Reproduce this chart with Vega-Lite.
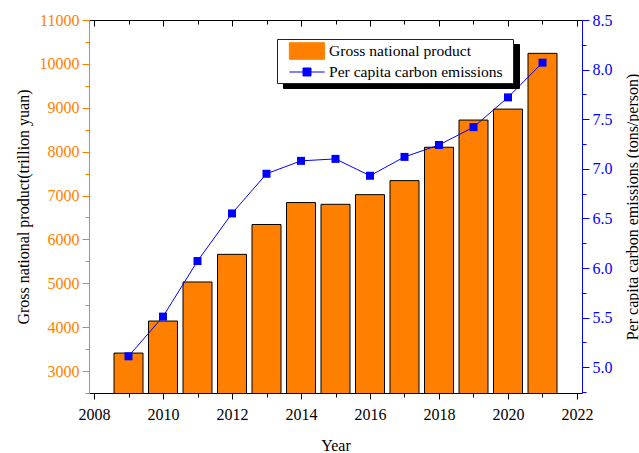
{
  "$schema": "https://vega.github.io/schema/vega-lite/v6.json",
  "width": 493,
  "height": 373,
  "autosize": {"type": "none"},
  "padding": {"left": 89, "top": 20, "right": 57, "bottom": 60},
  "background": "white",
  "config": {
    "font": "Liberation Serif",
    "view": {"stroke": null},
    "axis": {
      "grid": false,
      "labelFont": "Liberation Serif",
      "titleFont": "Liberation Serif",
      "labelFontSize": 16,
      "titleFontSize": 16,
      "titleFontWeight": "normal",
      "domainWidth": 1,
      "tickWidth": 1
    }
  },
  "data": {
    "values": [
      {"year": 2009, "gdp": 3410, "emissions": 5.11},
      {"year": 2010, "gdp": 4140, "emissions": 5.51},
      {"year": 2011, "gdp": 5030, "emissions": 6.07},
      {"year": 2012, "gdp": 5660, "emissions": 6.55},
      {"year": 2013, "gdp": 6340, "emissions": 6.95},
      {"year": 2014, "gdp": 6840, "emissions": 7.08},
      {"year": 2015, "gdp": 6800, "emissions": 7.10},
      {"year": 2016, "gdp": 7020, "emissions": 6.93},
      {"year": 2017, "gdp": 7340, "emissions": 7.12},
      {"year": 2018, "gdp": 8100, "emissions": 7.24},
      {"year": 2019, "gdp": 8720, "emissions": 7.42},
      {"year": 2020, "gdp": 8970, "emissions": 7.72},
      {"year": 2021, "gdp": 10240, "emissions": 8.07}
    ]
  },
  "layer": [
    {
      "mark": {"type": "point", "opacity": 0},
      "encoding": {
        "x": {"field": "year", "type": "quantitative", "scale": {"domain": [2008, 2022], "nice": false, "zero": false}, "axis": null},
        "y": {"field": "gdp", "type": "quantitative", "scale": {"domain": [2500, 11000], "nice": false, "zero": false}, "axis": null},
        "shape": {
          "datum": "a",
          "scale": {"domain": ["a", "b"], "range": ["M-1.86,-0.87H1.86V0.87H-1.86Z", "M-1.86,0H1.86M-0.42,-0.42H0.42V0.42H-0.42Z"]},
          "legend": {
            "orient": "none",
            "legendX": 194,
            "legendY": 24,
            "title": " ",
            "titleOrient": "right",
            "titlePadding": 8,
            "titleFont": "Liberation Serif",
            "titleFontSize": 15.6,
            "fillColor": "black",
            "strokeColor": "black",
            "padding": 2,
            "labelFont": "Liberation Serif",
            "labelFontSize": 15.6,
            "labelColor": "black",
            "labelOffset": 12,
            "labelLimit": 400,
            "symbolSize": 361,
            "symbolStrokeWidth": 1,
            "symbolOffset": 18,
            "symbolFillColor": "black",
            "symbolStrokeColor": "black",
            "rowPadding": 0,
            "labelExpr": "datum.value === 'a' ? 'Gross national product' : 'Per capita carbon emissions'"
          }
        }
      }
    },
    {
      "mark": {"type": "bar", "width": 29, "stroke": "black", "strokeWidth": 1, "clip": true},
      "encoding": {
        "x": {
          "field": "year", "type": "quantitative",
          "scale": {"domain": [2008, 2022], "nice": false, "zero": false},
          "axis": {
            "orient": "bottom",
            "values": [2008, 2009, 2010, 2011, 2012, 2013, 2014, 2015, 2016, 2017, 2018, 2019, 2020, 2021, 2022],
            "format": "d",
            "labelExpr": "datum.value % 2 === 0 ? datum.label : ''",
            "tickSize": {"condition": {"test": "datum.value % 2 === 0", "value": 6}, "value": 4},
            "title": "Year",
            "domainColor": "black",
            "tickColor": "black",
            "labelColor": "black",
            "titleColor": "black",
            "labelPadding": 7,
            "titlePadding": 15,
            "labelFlush": false,
            "labelOverlap": false
          }
        },
        "y": {
          "field": "gdp", "type": "quantitative",
          "scale": {"domain": [2500, 11000], "nice": false, "zero": false},
          "axis": {
            "orient": "left",
            "values": [2500, 3000, 3500, 4000, 4500, 5000, 5500, 6000, 6500, 7000, 7500, 8000, 8500, 9000, 9500, 10000, 10500, 11000],
            "format": "d",
            "labelExpr": "datum.value % 1000 === 0 ? datum.label : ''",
            "tickSize": {"condition": {"test": "datum.value % 1000 === 0", "value": 7}, "value": 4},
            "title": "Gross national product(trillion yuan)",
            "domainColor": "#FF8000",
            "tickColor": "#FF8000",
            "labelColor": "#FF8000",
            "titleColor": "black",
            "labelPadding": 3,
            "titlePadding": 8,
            "labelFlush": false,
            "labelOverlap": false
          }
        },
        "color": {
          "datum": "Gross national product",
          "scale": {"domain": ["Gross national product", "Per capita carbon emissions"], "range": ["#FF8000", "#0000FF"]},
          "legend": {
            "orient": "none",
            "legendX": 188,
            "legendY": 19,
            "title": " ",
            "titleOrient": "right",
            "titlePadding": 8,
            "titleFont": "Liberation Serif",
            "titleFontSize": 15.6,
            "fillColor": "white",
            "strokeColor": "#222222",
            "padding": 2,
            "labelFont": "Liberation Serif",
            "labelFontSize": 15.6,
            "labelColor": "black",
            "labelOffset": 12,
            "labelLimit": 400,
            "symbolSize": 361,
            "symbolStrokeWidth": 1,
            "symbolOffset": 18,
            "symbolOpacity": 1,
            "symbolType": {"expr": "datum.value === 'Gross national product' ? 'M-1.86,-0.87H1.86V0.87H-1.86Z' : 'M-1.86,0H1.86M-0.42,-0.42H0.42V0.42H-0.42Z'"},
            "rowPadding": 0
          }
        }
      }
    },
    {
      "mark": {"type": "line", "strokeWidth": 1, "clip": true},
      "encoding": {
        "x": {
          "field": "year", "type": "quantitative",
          "scale": {"domain": [2008, 2022], "nice": false, "zero": false},
          "axis": {
            "orient": "top",
            "values": [2008, 2009, 2010, 2011, 2012, 2013, 2014, 2015, 2016, 2017, 2018, 2019, 2020, 2021, 2022],
            "labels": false,
            "title": null,
            "tickSize": {"condition": {"test": "datum.value % 2 === 0", "value": -6}, "value": -4},
            "domainColor": "black",
            "tickColor": "black"
          }
        },
        "y": {
          "field": "emissions", "type": "quantitative",
          "scale": {"domain": [4.74, 8.5], "nice": false, "zero": false},
          "axis": {
            "orient": "right",
            "values": [4.75, 5, 5.25, 5.5, 5.75, 6, 6.25, 6.5, 6.75, 7, 7.25, 7.5, 7.75, 8, 8.25, 8.5],
            "labelExpr": "(datum.value * 2) % 1 === 0 ? format(datum.value, '.1f') : ''",
            "tickSize": {"condition": {"test": "(datum.value * 2) % 1 === 0", "value": 7}, "value": 4},
            "title": "Per capita carbon emissions (tons/person)",
            "titleAngle": 270,
            "titleBaseline": "top",
            "domainColor": "#0000FF",
            "tickColor": "#0000FF",
            "labelColor": "#0000FF",
            "titleColor": "black",
            "labelPadding": 3,
            "titlePadding": 12,
            "labelFlush": false,
            "labelOverlap": false
          }
        },
        "color": {"datum": "Per capita carbon emissions"}
      }
    },
    {
      "mark": {"type": "point", "shape": "square", "filled": true, "size": 64, "opacity": 1, "clip": true},
      "encoding": {
        "x": {"field": "year", "type": "quantitative", "scale": {"domain": [2008, 2022], "nice": false, "zero": false}, "axis": null},
        "y": {"field": "emissions", "type": "quantitative", "scale": {"domain": [4.74, 8.5], "nice": false, "zero": false}, "axis": null},
        "color": {"datum": "Per capita carbon emissions"}
      }
    }
  ],
  "resolve": {"scale": {"y": "independent"}, "axis": {"x": "independent"}}
}
